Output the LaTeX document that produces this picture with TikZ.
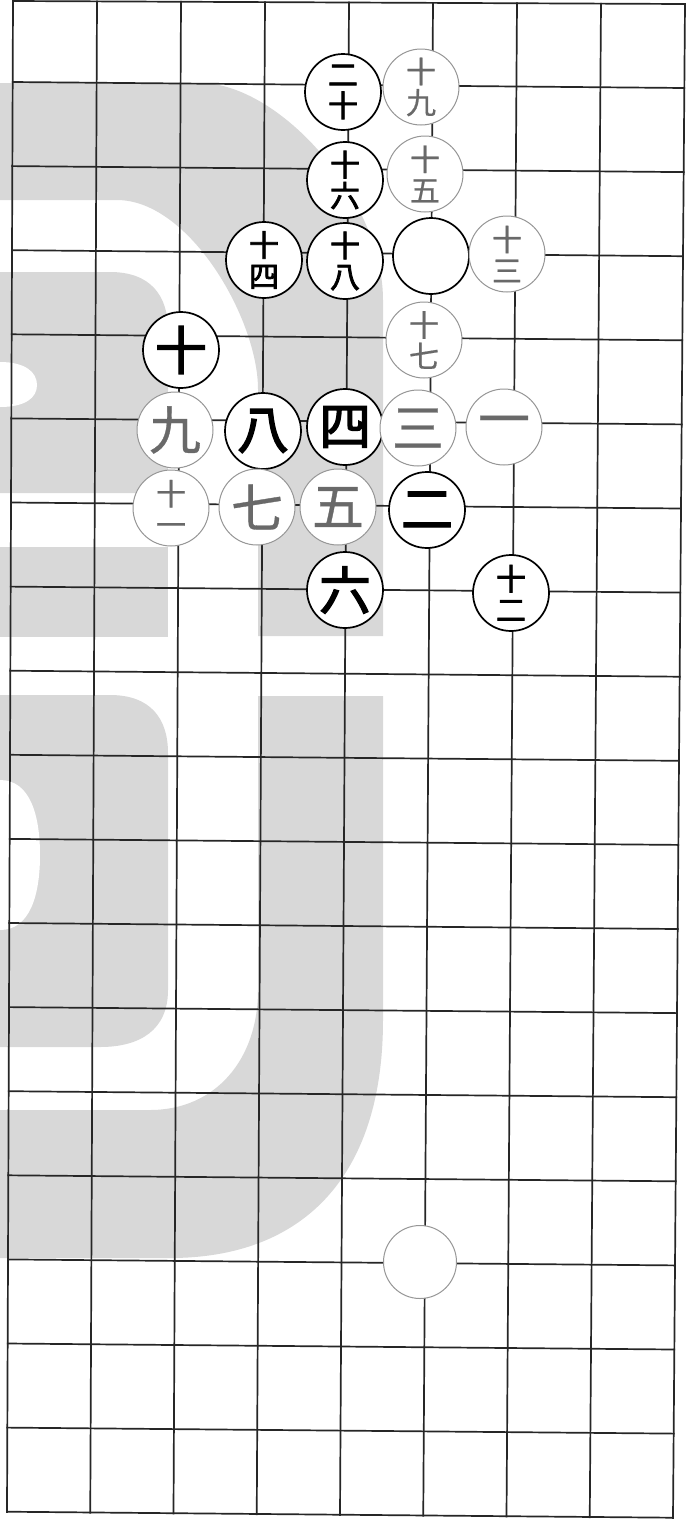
\documentclass[tikz,border=0pt]{standalone}
\usepackage{fontspec}
\newfontfamily\jp{Noto Sans CJK JP}[FakeBold=0.6]
\newfontfamily\jpb{Noto Sans CJK JP}[FakeBold=2.5]
\definecolor{wm}{RGB}{216,216,216}
\definecolor{faint}{RGB}{150,150,150}
\definecolor{fainttext}{RGB}{105,105,105}
\begin{document}
\begin{tikzpicture}[x=1pt,y=-1pt,
  gridl/.style={line width=1.7pt, draw=black!85, line cap=rect},
  stone/.style={circle, fill=white, minimum size=76pt, inner sep=0pt, align=center},
  bst/.style={stone, draw=black, line width=1.7pt, text=black, font=\jpb\fontsize{52}{52}\selectfont},
  bstt/.style={bst, font=\jpb\fontsize{30}{31}\selectfont},
  wst/.style={stone, draw=faint, line width=1pt, text=fainttext, font=\jp\fontsize{52}{52}\selectfont},
  wstt/.style={wst, font=\jp\fontsize{30}{31}\selectfont}]
\useasboundingbox (0,0) rectangle (697,1527);
\fill[white] (0,0) rectangle (697,1527);
% watermark
\fill[wm] (0,83) -- (200,83) .. controls (280,83) and (383,200) .. (383,300) -- (383,636) -- (258,636) -- (258,389) .. controls (258,320) and (190,200) .. (117,200) -- (0,200) -- cycle;
\fill[wm] (258,696) -- (383,696) -- (383,1020) .. controls (383,1180) and (300,1258) .. (170,1258) -- (0,1258) -- (0,1110) -- (150,1110) .. controls (215,1110) and (258,1060) .. (258,990) -- cycle;
\fill[wm] (0,272) -- (110,272) .. controls (150,272) and (168,295) .. (168,330) -- (168,493) -- (0,493) -- cycle;
\fill[wm] (0,547) rectangle (168,637);
\fill[wm] (0,695) -- (110,695) .. controls (150,695) and (168,718) .. (168,753) -- (168,990) .. controls (168,1030) and (140,1047) .. (100,1047) -- (0,1047) -- cycle;
\fill[white] (0,362) .. controls (25,362) and (37,372) .. (37,385) .. controls (37,398) and (25,407) .. (0,407) -- cycle;
\fill[white] (0,780) .. controls (30,780) and (40,815) .. (40,855) .. controls (40,895) and (30,930) .. (0,930) -- cycle;
% grid
\foreach \i in {0,...,8} {
  \pgfmathsetmacro\xt{13+84*\i}
  \pgfmathsetmacro\xb{7+83.25*\i}
  \pgfmathsetmacro\yt{1+0.375*\i}
  \pgfmathsetmacro\yb{1512+0.75*\i}
  \draw[gridl] (\xt,\yt) -- (\xb,\yb);
}
\foreach \j in {0,...,18} {
  \pgfmathsetmacro\yl{\j==0 ? 1 : 82+84.1*(\j-1)}
  \pgfmathsetmacro\dy{\j==0 ? 3 : 6}
  \pgfmathsetmacro\fr{\yl/1512}
  \pgfmathsetmacro\xl{13-6*\fr}
  \pgfmathsetmacro\xr{685-12*\fr}
  \draw[gridl] (\xl,\yl) -- (\xr,\yl+\dy);
}
% stones
\node[bstt] (s20) at (343,92) {二\\十};
\node[wstt] (s19) at (421,87) {十\\九};
\node[bstt] (s16) at (345,180) {十\\六};
\node[wstt] (s15) at (425,174) {十\\五};
\node[bstt] (s18) at (345,261) {十\\八};
\node[bst] (e1) at (431,256) {};
\node[wstt] (s13) at (507,254) {十\\三};
\node[bstt] (s14) at (264,260) {十\\四};
\node[bst] (s10) at (181,350) {十};
\node[wstt] (s17) at (424,340) {十\\七};
\node[wst] (s9) at (175,430) {九};
\node[bst] (s8) at (263,431) {八};
\node[bst] (s4) at (345,427) {四};
\node[wst] (s3) at (418,428) {三};
\node[wst] (s1) at (504,427) {一};
\node[wstt] (s11) at (171,508) {十\\一};
\node[wst] (s7) at (257,507) {七};
\node[wst] (s5) at (338,507) {五};
\node[bst] (s2) at (427,510) {二};
\node[bst] (s6) at (345,590) {六};
\node[bstt] (s12) at (511,593) {十\\二};
\node[wst, minimum size=73pt] (e2) at (420,1262) {};
\end{tikzpicture}
\end{document}
